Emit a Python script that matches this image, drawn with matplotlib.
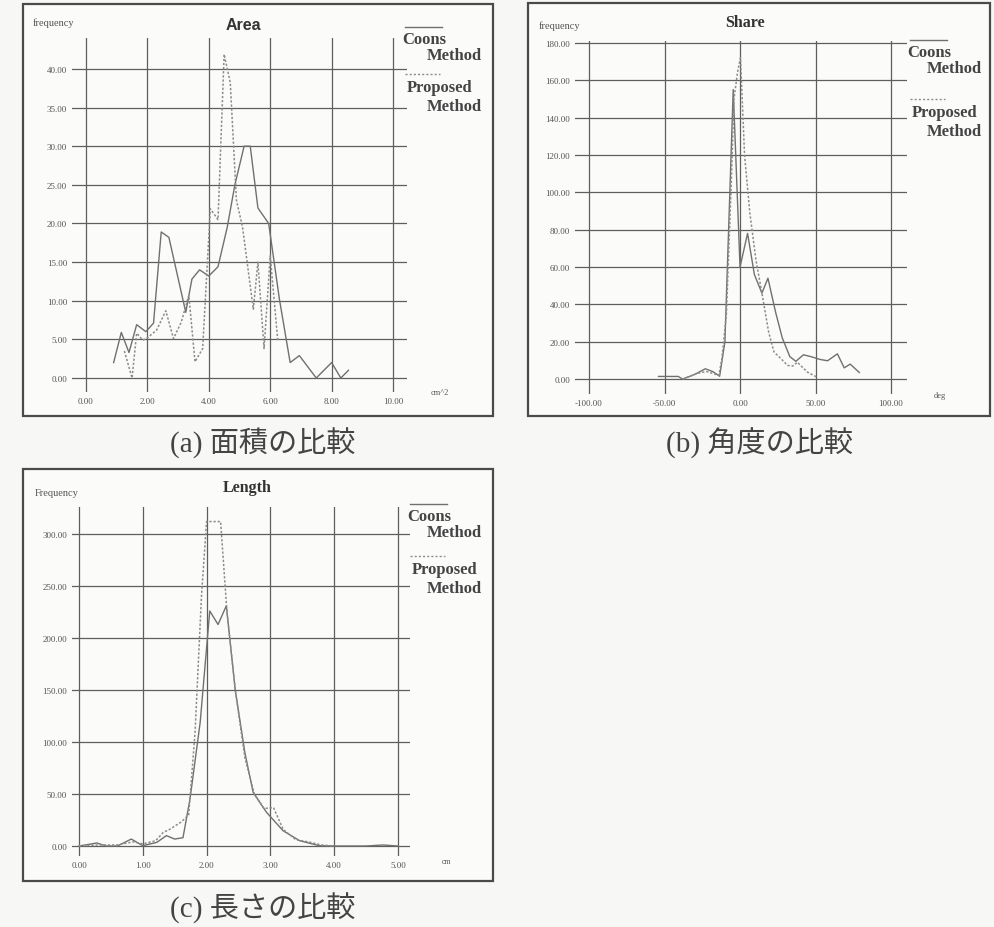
import matplotlib
matplotlib.use("Agg")
import matplotlib.pyplot as plt
from matplotlib.lines import Line2D
from matplotlib.patches import Rectangle
from matplotlib.ticker import FormatStrFormatter

plt.rcParams['axes.unicode_minus'] = False

# ---------------- data ----------------
area_ticks_x = [0, 2, 4, 6, 8, 10]
area_ticks_y = [0, 5, 10, 15, 20, 25, 30, 35, 40]
area_coons_x = [0.9, 1.15, 1.4, 1.65, 1.95, 2.2, 2.45, 2.7, 3.25, 3.45, 3.7, 4.0, 4.3,
                4.6, 4.85, 5.15, 5.35, 5.6, 5.95, 6.3, 6.65, 6.95, 7.5, 8.0, 8.3, 8.55]
area_coons_y = [2.0, 5.9, 3.3, 6.9, 6.0, 7.1, 18.9, 18.2, 8.5, 12.8, 14.0, 13.2, 14.4,
                19.5, 25.0, 30.0, 30.0, 22.0, 20.0, 10.2, 2.0, 2.9, 0.0, 2.0, 0.0, 1.0]
area_prop_x = [1.25, 1.5, 1.65, 1.85, 2.0, 2.3, 2.6, 2.85, 3.1, 3.35, 3.55, 3.8, 4.05,
               4.3, 4.5, 4.7, 4.9, 5.1, 5.45, 5.6, 5.8, 6.0, 6.25]
area_prop_y = [3.5, 0.0, 5.8, 4.9, 5.2, 6.2, 8.7, 5.1, 7.2, 10.7, 2.1, 3.8, 21.9,
               20.5, 41.9, 38.2, 23.0, 19.5, 8.9, 15.0, 3.8, 15.8, 4.7]

share_ticks_x = [-100, -50, 0, 50, 100]
share_ticks_y = [0, 20, 40, 60, 80, 100, 120, 140, 160, 180]
share_coons_x = [-54, -41, -38, -30, -23, -18, -13.5, -10, -4.5, 0, 5, 9.5, 14.5, 18.5,
                 23.5, 28, 33, 37, 42, 47, 53, 58, 64.5, 69, 73, 79]
share_coons_y = [1.4, 1.4, 0, 2.5, 5.5, 4, 1.5, 20, 155, 60, 78, 56, 46, 54,
                 36, 22, 12, 9.5, 13, 12, 10.5, 9.8, 13.5, 6, 8, 3.5]
share_prop_x = [-38, -30, -26, -22, -18, -14, -12, -9, -6, -4, -1.5, 0.3, 3, 6.5, 10.5,
                14.5, 19, 22.5, 27, 31.5, 35, 38, 44.5, 51]
share_prop_y = [0, 2.5, 3.5, 4, 3, 2, 11, 35, 100, 150, 165, 172, 120, 89, 64,
                46, 25, 14.5, 11, 7.3, 7, 9, 3.8, 1]

length_ticks_x = [0, 1, 2, 3, 4, 5]
length_ticks_y = [0, 50, 100, 150, 200, 250, 300]
length_coons_x = [0.0, 0.28, 0.43, 0.6, 0.82, 1.0, 1.22, 1.37, 1.5, 1.63, 1.74, 1.9, 2.05,
                  2.18, 2.31, 2.45, 2.6, 2.73, 2.94, 3.2, 3.46, 3.77, 4.0, 4.5, 4.77, 5.0]
length_coons_y = [0, 2.9, 0, 0, 6.7, 0.3, 3.5, 10, 6.7, 8, 45, 119, 226,
                  213, 231, 150, 90, 51.6, 32.4, 14.7, 5.1, 0.3, 0, 0, 1, 0]
length_prop_x = [0.0, 0.3, 0.6, 0.85, 1.0, 1.2, 1.32, 1.42, 1.6, 1.72, 1.82, 1.92, 2.0,
                 2.22, 2.32, 2.45, 2.6, 2.75, 2.9, 3.05, 3.2, 3.4, 3.6, 3.8, 4.0]
length_prop_y = [0, 1, 1, 4, 2, 5, 13, 16, 23, 30, 110, 240, 312,
                 312, 225, 150, 85, 50, 36, 37, 16, 6, 4, 1, 0]

titles = ["Area", "Share", "Length"]
ylabels = ["frequency", "frequency", "Frequency"]
units = ["cm^2", "deg", "cm"]
captions = ["(a) 面積の比較", "(b) 角度の比較", "(c) 長さの比較"]
legend_names = ["Coons", "Proposed"]

# ---------------- layout ----------------
W, H = 994, 928
BG = "#f7f7f5"
fig = plt.figure(figsize=(W / 100, H / 100), dpi=100, facecolor=BG)

GRID = "#5e5e5e"
SOLID = "#707070"
DASH = "#8c8c8c"
SERIF = ["Liberation Serif", "DejaVu Serif"]
CJK = ["Liberation Serif", "Noto Sans CJK JP"]


def fx(x):
    return x / W


def fy(y):
    return 1 - y / H


def frame(x0, y0, x1, y1):
    fig.add_artist(Rectangle((fx(x0), fy(y1)), fx(x1) - fx(x0), fy(y0) - fy(y1),
                             transform=fig.transFigure, facecolor="#fbfbfa",
                             edgecolor="#4a4a4a", linewidth=1.6, zorder=0))


def make_axes(box, xlim, ylim, xt, yt, xs, ys, x2, y2):
    x0, y0, x1, y1 = box
    ax = fig.add_axes([fx(x0), fy(y1), fx(x1) - fx(x0), fy(y0) - fy(y1)])
    ax.set_facecolor("none")
    ax.set_xlim(*xlim)
    ax.set_ylim(*ylim)
    for s in ax.spines.values():
        s.set_visible(False)
    ax.set_xticks(xt)
    ax.set_yticks(yt)
    ax.xaxis.set_major_formatter(FormatStrFormatter("%.2f"))
    ax.yaxis.set_major_formatter(FormatStrFormatter("%.2f"))
    ax.tick_params(length=0, labelsize=6.5, labelcolor="#555555", pad=3.5)
    for lab in ax.get_xticklabels() + ax.get_yticklabels():
        lab.set_family(SERIF)
    for v in xt:
        ax.axvline(v, color=GRID, lw=0.9, zorder=1)
    for v in yt:
        ax.axhline(v, color=GRID, lw=0.9, zorder=1)
    ax.plot(xs, ys, color=SOLID, lw=1.0, zorder=3)
    ax.plot(x2, y2, color=DASH, lw=1.1, ls=(0, (1.5, 1.2)), zorder=3)
    return ax


def legend(lx, ly_solid, ly_dash, right):
    fig.add_artist(Line2D([fx(lx), fx(lx + 37)], [fy(ly_solid)] * 2,
                          transform=fig.transFigure, color=SOLID, lw=1.0))
    fig.text(fx(lx - 3), fy(ly_solid + 12), legend_names[0], ha="left", va="center",
             family=SERIF, weight="bold", fontsize=12, color="#444444")
    fig.text(fx(right), fy(ly_solid + 28), "Method", ha="right", va="center",
             family=SERIF, weight="bold", fontsize=12, color="#444444")
    fig.add_artist(Line2D([fx(lx), fx(lx + 35)], [fy(ly_dash)] * 2,
                          transform=fig.transFigure, color=DASH, lw=1.0,
                          ls=(0, (1.5, 1.5))))
    fig.text(fx(lx + 2), fy(ly_dash + 13), legend_names[1], ha="left", va="center",
             family=SERIF, weight="bold", fontsize=12, color="#444444")
    fig.text(fx(right), fy(ly_dash + 32), "Method", ha="right", va="center",
             family=SERIF, weight="bold", fontsize=12, color="#444444")


# ---- panel (a) ----
frame(23, 5, 493, 417)
make_axes((72, 39, 407, 393), (-0.456, 10.456), (-1.81, 44.0),
          area_ticks_x, area_ticks_y, area_coons_x, area_coons_y, area_prop_x, area_prop_y)
fig.text(fx(243), fy(26), titles[0], ha="center", va="center", weight="bold",
         family=["Liberation Sans", "DejaVu Sans"], fontsize=11.5, color="#333333")
fig.text(fx(33), fy(23), ylabels[0], ha="left", va="center", family=SERIF,
         fontsize=7.5, color="#555555")
fig.text(fx(440), fy(393), units[0], ha="center", va="center", family=SERIF,
         fontsize=6, color="#555555")
legend(405, 28, 75, 482)
fig.text(fx(263), fy(443), captions[0], ha="center", va="center", family=CJK,
         fontsize=21, color="#444444")

# ---- panel (b) ----
frame(528, 4, 990, 417)
make_axes((575, 42, 907, 395), (-109.3, 110.6), (-8.0, 181.0),
          share_ticks_x, share_ticks_y, share_coons_x, share_coons_y, share_prop_x, share_prop_y)
fig.text(fx(745), fy(23), titles[1], ha="center", va="center", weight="bold",
         family=SERIF, fontsize=11.5, color="#333333")
fig.text(fx(560), fy(26), ylabels[1], ha="center", va="center", family=SERIF,
         fontsize=7.5, color="#555555")
fig.text(fx(940), fy(396), units[1], ha="center", va="center", family=SERIF,
         fontsize=6, color="#555555")
legend(910, 41, 100, 982)
fig.text(fx(760), fy(443), captions[1], ha="center", va="center", family=CJK,
         fontsize=21, color="#444444")

# ---- panel (c) ----
frame(23, 470, 493, 882)
make_axes((72, 508, 410, 857), (-0.11, 5.19), (-9.6, 326.0),
          length_ticks_x, length_ticks_y, length_coons_x, length_coons_y, length_prop_x, length_prop_y)
fig.text(fx(247), fy(488), titles[2], ha="center", va="center", weight="bold",
         family=SERIF, fontsize=11.5, color="#333333")
fig.text(fx(57), fy(494), ylabels[2], ha="center", va="center", family=SERIF,
         fontsize=7.5, color="#555555")
fig.text(fx(447), fy(862), units[2], ha="center", va="center", family=SERIF,
         fontsize=5.5, color="#555555")
legend(410, 505, 557, 482)
fig.text(fx(263), fy(908), captions[2], ha="center", va="center", family=CJK,
         fontsize=21, color="#444444")

fig.savefig("out.png", dpi=100, facecolor=BG)
